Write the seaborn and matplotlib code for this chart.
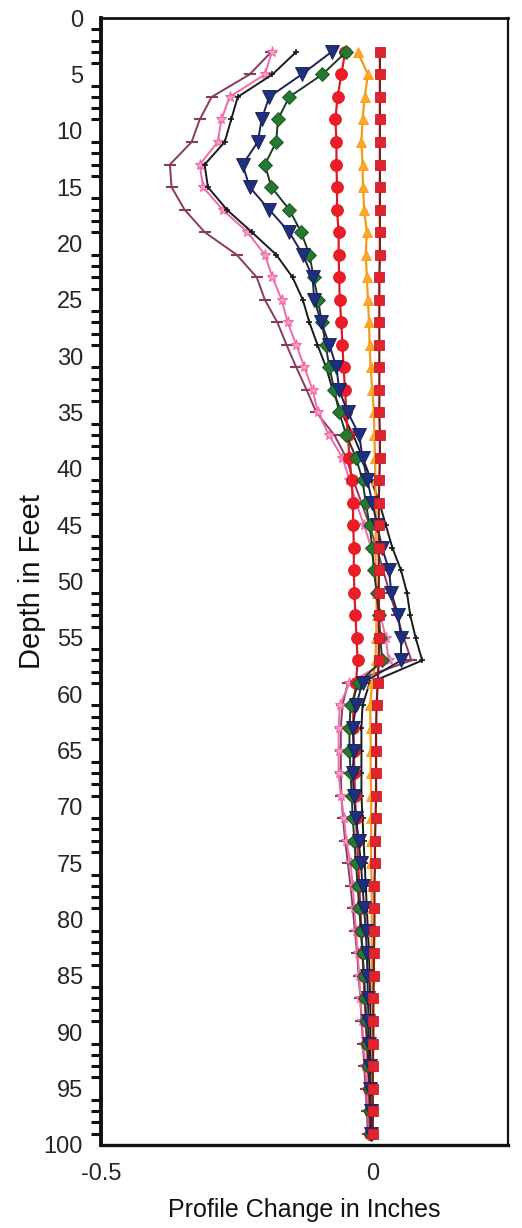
import matplotlib
matplotlib.use("Agg")
import matplotlib.pyplot as plt
import seaborn as sns
import numpy as np
import pandas as pd
from matplotlib.ticker import MultipleLocator, FixedLocator

depth = [3, 5, 7, 9, 11, 13, 15, 17, 19, 21, 23, 25, 27, 29, 31, 33, 35, 37, 39, 41,
         43, 45, 47, 49, 51, 53, 55, 57, 59, 61, 63, 65, 67, 69, 71, 73, 75, 77, 79, 81,
         83, 85, 87, 89, 91, 93, 95, 97, 99]

maroon = [-0.186, -0.226, -0.296, -0.318, -0.333, -0.373, -0.370, -0.346, -0.309, -0.250,
          -0.213, -0.198, -0.175, -0.158, -0.140, -0.121, -0.103, -0.070, -0.048, -0.035,
          -0.020, -0.005, 0.008, 0.020, 0.032, 0.045, 0.058, 0.072, -0.045, -0.055,
          -0.058, -0.058, -0.058, -0.057, -0.054, -0.050, -0.045, -0.040, -0.036, -0.032,
          -0.028, -0.025, -0.022, -0.020, -0.017, -0.015, -0.012, -0.010, -0.008]

pink = [-0.185, -0.198, -0.263, -0.278, -0.285, -0.318, -0.312, -0.276, -0.230, -0.198,
        -0.184, -0.167, -0.156, -0.140, -0.125, -0.110, -0.100, -0.080, -0.055, -0.042,
        -0.030, -0.015, -0.002, 0.004, 0.009, 0.015, 0.025, 0.030, -0.042, -0.060,
        -0.062, -0.062, -0.062, -0.058, -0.052, -0.048, -0.040, -0.036, -0.033, -0.030,
        -0.027, -0.024, -0.022, -0.019, -0.016, -0.013, -0.010, -0.008, -0.006]

black = [-0.140, -0.184, -0.248, -0.260, -0.272, -0.309, -0.303, -0.268, -0.222, -0.177,
         -0.147, -0.128, -0.116, -0.101, -0.085, -0.073, -0.057, -0.035, -0.018, -0.002,
         0.013, 0.025, 0.037, 0.053, 0.064, 0.070, 0.080, 0.092, -0.005, -0.018,
         -0.020, -0.020, -0.020, -0.020, -0.018, -0.016, -0.014, -0.012, -0.010, -0.008,
         -0.006, -0.005, -0.004, -0.003, -0.003, -0.002, -0.002, -0.001, -0.001]

navy = [-0.075, -0.130, -0.190, -0.204, -0.211, -0.239, -0.226, -0.190, -0.153, -0.128,
        -0.110, -0.107, -0.094, -0.079, -0.066, -0.061, -0.045, -0.024, -0.018, -0.009,
        0.000, 0.009, 0.018, 0.031, 0.035, 0.048, 0.053, 0.053, -0.018, -0.030,
        -0.036, -0.034, -0.036, -0.034, -0.030, -0.025, -0.021, -0.018, -0.015, -0.012,
        -0.010, -0.009, -0.008, -0.007, -0.006, -0.005, -0.004, -0.003, -0.002]

green = [-0.048, -0.092, -0.153, -0.174, -0.177, -0.198, -0.186, -0.153, -0.131, -0.116,
         -0.108, -0.100, -0.093, -0.086, -0.079, -0.070, -0.061, -0.048, -0.030, -0.018,
         -0.012, -0.005, 0.000, 0.003, 0.008, 0.012, 0.015, 0.018, -0.025, -0.040,
         -0.042, -0.042, -0.040, -0.038, -0.036, -0.033, -0.030, -0.027, -0.024, -0.021,
         -0.018, -0.015, -0.013, -0.011, -0.009, -0.007, -0.005, -0.004, -0.003]

red_circle = [-0.050, -0.057, -0.064, -0.068, -0.066, -0.066, -0.065, -0.065, -0.062, -0.062,
              -0.061, -0.060, -0.057, -0.055, -0.053, -0.050, -0.048, -0.045, -0.042, -0.038,
              -0.036, -0.035, -0.034, -0.034, -0.033, -0.031, -0.029, -0.027, -0.030, -0.035,
              -0.035, -0.034, -0.033, -0.032, -0.030, -0.028, -0.026, -0.024, -0.022, -0.020,
              -0.018, -0.016, -0.014, -0.012, -0.010, -0.008, -0.006, -0.005, -0.004]

orange = [-0.027, -0.008, -0.014, -0.018, -0.020, -0.018, -0.017, -0.015, -0.010, -0.012,
          -0.010, -0.008, -0.006, -0.005, -0.003, 0.000, 0.003, 0.004, 0.005, 0.006,
          0.006, 0.007, 0.006, 0.006, 0.008, 0.008, 0.007, 0.006, 0.000, -0.004,
          -0.003, -0.003, -0.003, -0.002, -0.002, -0.002, -0.002, -0.001, -0.001, -0.001,
          -0.001, 0.000, 0.000, 0.000, 0.000, 0.000, 0.000, 0.000, 0.000]

square = [0.014, 0.014, 0.014, 0.014, 0.014, 0.014, 0.014, 0.014, 0.014, 0.014,
          0.013, 0.013, 0.013, 0.013, 0.013, 0.013, 0.013, 0.014, 0.014, 0.013,
          0.012, 0.012, 0.012, 0.012, 0.012, 0.012, 0.012, 0.012, 0.010, 0.008,
          0.007, 0.007, 0.007, 0.007, 0.006, 0.005, 0.005, 0.004, 0.004, 0.004,
          0.003, 0.003, 0.002, 0.002, 0.002, 0.001, 0.001, 0.001, 0.001]

x_ticks = [-0.5, -0.25, 0, 0.25]
x_ticklabels = ["-0.5", "", "0", ""]
y_ticks = [0, 5, 10, 15, 20, 25, 30, 35, 40, 45, 50, 55, 60, 65, 70, 75, 80, 85, 90, 95, 100]

sns.set_style("white")
plt.rcParams["font.family"] = ["Liberation Sans", "DejaVu Sans"]

fig = plt.figure(figsize=(5.22, 12.28), dpi=100)
ax = fig.add_axes([0.1935, 0.0676, 0.7795, 0.9177])

styles = [
    (maroon, dict(color="#8a3a5c", marker="_", markersize=8, markeredgewidth=1.5,
                  markeredgecolor="#8a3a5c", linewidth=1.4)),
    (pink, dict(color="#f06aa8", marker="*", markersize=8, markeredgewidth=0.8,
                markeredgecolor="#f06aa8", markerfacecolor="#f7a0c8", linewidth=1.4)),
    (black, dict(color="#1a1a1a", marker="+", markersize=5, markeredgewidth=1.2,
                 markeredgecolor="#1a1a1a", linewidth=1.4)),
    (red_circle, dict(color="#e01a24", marker="o", markersize=8.5, markeredgewidth=0.6,
                      markeredgecolor="#d81820", markerfacecolor="#ee1c26", linewidth=1.6)),
    (orange, dict(color="#f59a1a", marker="^", markersize=7.5, markeredgewidth=0.6,
                  markeredgecolor="#f59a1a", markerfacecolor="#ffa726", linewidth=1.6)),
    (green, dict(color="#1d3b24", marker="D", markersize=7, markeredgewidth=0.6,
                 markeredgecolor="#1d4a26", markerfacecolor="#237a2e", linewidth=1.4)),
    (navy, dict(color="#1b2455", marker="v", markersize=9.5, markeredgewidth=0.6,
                markeredgecolor="#141c50", markerfacecolor="#1f2f80", linewidth=1.4)),
    (square, dict(color="#7a1a1a", marker="s", markersize=7.5, markeredgewidth=0.6,
                  markeredgecolor="#c81e28", markerfacecolor="#e0242e", linewidth=1.6)),
]

for vals, kw in styles:
    df = pd.DataFrame({"change": vals, "depth": depth})
    sns.lineplot(data=df, x="change", y="depth", estimator=None, sort=False, ax=ax, **kw)

ax.set_xlim(-0.5, 0.25)
ax.set_ylim(100, 0)
ax.xaxis.set_major_locator(FixedLocator(x_ticks))
ax.set_xticklabels(x_ticklabels)
ax.yaxis.set_major_locator(FixedLocator(y_ticks))
ax.set_yticklabels([str(t) for t in y_ticks])
ax.yaxis.set_minor_locator(MultipleLocator(1))

ax.tick_params(axis="y", which="major", direction="out", length=9, width=2.2,
               labelsize=17, pad=4, color="#111111")
ax.tick_params(axis="y", which="minor", direction="out", length=7, width=2.2,
               color="#111111", left=True)
ax.tick_params(axis="x", which="major", direction="out", length=9, width=2.2,
               labelsize=17, pad=4, color="#111111")

for side, lw in [("left", 2.8), ("bottom", 2.4), ("top", 2.0), ("right", 1.6)]:
    ax.spines[side].set_visible(True)
    ax.spines[side].set_linewidth(lw)
    ax.spines[side].set_color("#111111")

ax.set_xlabel("Profile Change in Inches", fontsize=18, labelpad=9, color="#111111")
ax.set_ylabel("Depth in Feet", fontsize=21, labelpad=-2, color="#111111")
ax.grid(False)

fig.savefig("out.png", dpi=100)
